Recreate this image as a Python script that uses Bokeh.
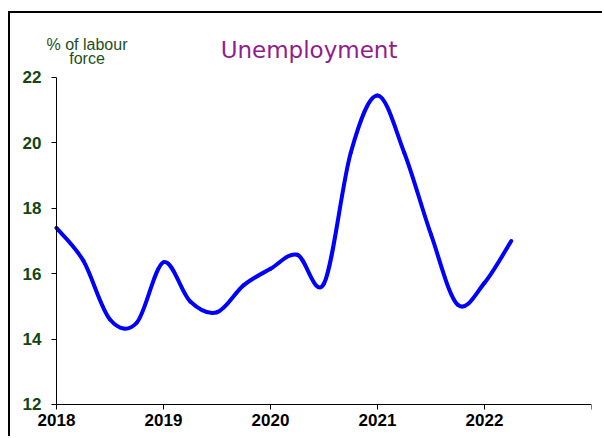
from bokeh.plotting import figure
from bokeh.models import Label, FixedTicker, Range1d
from bokeh.embed import file_html
from bokeh.resources import INLINE

# ---- data ----
quarters = [2018.00, 2018.25, 2018.50, 2018.75,
            2019.00, 2019.25, 2019.50, 2019.75,
            2020.00, 2020.25, 2020.50, 2020.75,
            2021.00, 2021.25, 2021.50, 2021.75,
            2022.00, 2022.25]
unemployment = [17.4, 16.4, 14.6, 14.5,
                16.35, 15.15, 14.82, 15.65,
                16.15, 16.58, 15.7, 19.7,
                21.45, 19.7, 17.2, 15.05,
                15.72, 17.0]
year_ticks = [2018, 2019, 2020, 2021, 2022, 2023]
year_labels = {2018: "2018", 2019: "2019", 2020: "2020", 2021: "2021", 2022: "2022", 2023: ""}
y_ticks = [12, 14, 16, 18, 20, 22]

title_text = "Unemployment"
unit_lines = ["% of labour", "force"]

# ---- smoothed line (cubic Bezier segments through the data points) ----
n = len(quarters)
x0, y0, x1, y1, cx0, cy0, cx1, cy1 = [], [], [], [], [], [], [], []
for i in range(n - 1):
    pm = i - 1 if i > 0 else i
    pp = i + 2 if i + 2 < n else i + 1
    x0.append(quarters[i]); y0.append(unemployment[i])
    x1.append(quarters[i + 1]); y1.append(unemployment[i + 1])
    cx0.append(quarters[i] + (quarters[i + 1] - quarters[pm]) / 6)
    cy0.append(unemployment[i] + (unemployment[i + 1] - unemployment[pm]) / 6)
    cx1.append(quarters[i + 1] - (quarters[pp] - quarters[i]) / 6)
    cy1.append(unemployment[i + 1] - (unemployment[pp] - unemployment[i]) / 6)

p = figure(width=594, height=425, output_backend="svg", toolbar_location=None,
           x_range=Range1d(2017.570, 2023.0), y_range=Range1d(10.960, 23.957),
           min_border_left=0, min_border_right=13, min_border_top=0, min_border_bottom=0)
p.styles = {"margin-left": "8px", "margin-top": "11px",
            "border-left": "2px solid #000000", "border-top": "2px solid #000000"}
p.outline_line_color = None
p.background_fill_color = "white"
p.border_fill_color = "white"
p.xgrid.visible = False
p.ygrid.visible = False

p.bezier(x0=x0, y0=y0, x1=x1, y1=y1, cx0=cx0, cy0=cy0, cx1=cx1, cy1=cy1,
         line_color="#0000FF", line_width=4, line_cap="round")

# axes
p.xaxis.ticker = FixedTicker(ticks=year_ticks)
p.xaxis.bounds = (2018, 2023)
p.xaxis.fixed_location = 12
p.xaxis.major_label_overrides = year_labels
p.xaxis.major_label_text_font = "Liberation Sans"
p.xaxis.major_label_text_font_style = "bold"
p.xaxis.major_label_text_font_size = "17px"
p.xaxis.major_label_text_color = "#000000"
p.xaxis.major_label_standoff = 5
p.xaxis.major_tick_out = 5
p.xaxis.major_tick_in = 0
p.xaxis.minor_tick_line_color = None
p.xaxis.axis_line_color = "#000000"
p.xaxis.major_tick_line_color = "#000000"

p.yaxis.ticker = FixedTicker(ticks=y_ticks)
p.yaxis.bounds = (12, 22)
p.yaxis.fixed_location = 2018
p.yaxis.major_label_text_font = "Liberation Sans"
p.yaxis.major_label_text_font_style = "bold"
p.yaxis.major_label_text_font_size = "17px"
p.yaxis.major_label_text_color = "#12450F"
p.yaxis.major_label_standoff = 10
p.yaxis.major_tick_out = 5
p.yaxis.major_tick_in = 0
p.yaxis.minor_tick_line_color = None
p.yaxis.axis_line_color = "#000000"
p.yaxis.major_tick_line_color = "#000000"

# title and unit labels
p.add_layout(Label(x=2020.36, y=22.856, text=title_text, text_align="center",
                   text_baseline="alphabetic", text_font="DejaVu Sans",
                   text_font_size="23px", text_color="#931C8C"))
p.add_layout(Label(x=2018.285, y=23.009, text=unit_lines[0], text_align="center",
                   text_baseline="alphabetic", text_font="Liberation Sans",
                   text_font_size="16px", text_color="#1C4F1C"))
p.add_layout(Label(x=2018.285, y=22.581, text=unit_lines[1], text_align="center",
                   text_baseline="alphabetic", text_font="Liberation Sans",
                   text_font_size="16px", text_color="#1C4F1C"))

open("out.html", "w").write(file_html(p, INLINE))
